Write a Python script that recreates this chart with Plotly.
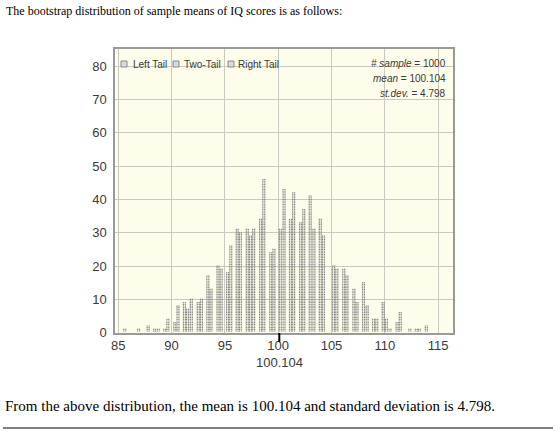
import plotly.graph_objects as go

# ---------------- data ----------------
header_text = "The bootstrap distribution of sample means of IQ scores is as follows:"
footer_text = "From the above distribution, the mean is 100.104 and standard deviation is 4.798."

bin_centers = [85.6, 86.9, 87.8, 88.4, 88.75, 89.35, 89.65, 90.3, 90.6, 91.2,
               91.5, 91.85, 92.5, 92.8, 93.4, 93.7, 94.35, 94.65, 95.25, 95.55,
               96.15, 96.45, 97.1, 97.4, 97.7, 98.35, 98.65, 99.3, 99.6, 100.2,
               100.55, 101.15, 101.45, 102.1, 102.4, 103.0, 103.35, 103.95, 104.25, 105.2,
               105.5, 106.15, 106.45, 107.1, 107.4, 108.0, 108.35, 108.95, 109.25, 109.85,
               110.15, 110.5, 111.15, 111.45, 112.35, 112.95, 113.25, 113.9]
counts = [1, 1, 2, 1, 1, 1, 4, 3, 8, 9,
          7, 10, 9, 10, 17, 13, 20, 19, 18, 26,
          31, 30, 31, 29, 31, 34, 46, 24, 25, 31,
          43, 34, 42, 33, 37, 41, 31, 34, 29, 20,
          19, 19, 17, 13, 9, 15, 8, 4, 4, 9,
          4, 1, 3, 6, 1, 1, 1, 2]
assert len(bin_centers) == len(counts)

x_ticks = [85, 90, 95, 100, 105, 110, 115]
y_ticks = [0, 10, 20, 30, 40, 50, 60, 70, 80]
tail_options = ["Left Tail", "Two-Tail", "Right Tail"]
n_samples = 1000
mean_value = 100.104
sd_value = 4.798

# ---------------- build dot stacks from the counts ----------------
dot_x, dot_y = [], []
for c, n in zip(bin_centers, counts):
    for k in range(1, 2 * n + 1):
        for off in (-0.09, 0.09):
            dot_x.append(c + off)
            dot_y.append(k * 0.5)

# ---------------- layout geometry (pixels) ----------------
W, H = 560, 436
L, R, T, B = 115, 453, 49, 333
PW, PH = R - L, B - T


def px(x):
    return (x - L) / PW


def py(y):
    return (B - y) / PH


BG = "#FEFCEA"
GRID = "#CACAC2"
TXT = "#3a3a3a"

fig = go.Figure()
fig.add_trace(go.Scatter(
    x=dot_x, y=dot_y, mode="markers",
    marker=dict(symbol="square", size=1.2, color="#858585", line=dict(width=0)),
    hoverinfo="skip", showlegend=False,
))

shapes = []
annotations = []

# legend-like checkboxes row
cb_x = [121, 173, 228]
txt_x = [131, 182, 236]
bg_spans = [(117, 169), (173, 222), (227, 281)]
for (b0, b1) in bg_spans:
    shapes.append(dict(type="rect", xref="paper", yref="paper", layer="between",
                       x0=px(b0), x1=px(b1), y0=py(72), y1=py(56),
                       fillcolor=BG, line=dict(width=0)))
for cx, tx, label in zip(cb_x, txt_x, tail_options):
    shapes.append(dict(type="rect", xref="paper", yref="paper",
                       x0=px(cx), x1=px(cx + 6), y0=py(67), y1=py(61),
                       fillcolor="#DADADA", line=dict(color="#8a8a8a", width=1)))
    annotations.append(dict(text=label, xref="paper", yref="paper",
                            x=px(tx), y=py(64), xanchor="left", yanchor="middle",
                            showarrow=False, font=dict(family="Liberation Sans", size=10, color=TXT)))

# stats box
shapes.append(dict(type="rect", xref="paper", yref="paper", layer="between",
                   x0=px(370), x1=px(452), y0=py(99), y1=py(50),
                   fillcolor=BG, line=dict(width=0)))
stats_lines = [f"<i># sample</i> = {n_samples}",
               f"<i>mean</i> = {mean_value}",
               f"<i>st.dev.</i> = {sd_value}"]
for i, s in enumerate(stats_lines):
    annotations.append(dict(text=s, xref="paper", yref="paper",
                            x=px(448), y=py(63 + i * 15), xanchor="right", yanchor="middle",
                            showarrow=False, font=dict(family="Liberation Sans", size=10, color=TXT)))

# mean marker below the axis
shapes.append(dict(type="line", xref="x", yref="paper",
                   x0=mean_value, x1=mean_value, y0=py(333), y1=py(342),
                   line=dict(color="black", width=2)))
annotations.append(dict(text=f"{mean_value}", xref="x", yref="paper",
                        x=mean_value, y=py(362), xanchor="center", yanchor="middle",
                        showarrow=False, font=dict(family="Liberation Sans", size=13, color=TXT)))

# header / footer text
annotations.append(dict(text=header_text, xref="paper", yref="paper",
                        x=px(4), y=py(11), xanchor="left", yanchor="middle",
                        showarrow=False, font=dict(family="Liberation Serif", size=12, color="black")))
annotations.append(dict(text=footer_text, xref="paper", yref="paper",
                        x=px(3), y=py(406), xanchor="left", yanchor="middle",
                        showarrow=False, font=dict(family="Liberation Serif", size=15, color="black")))
shapes.append(dict(type="line", xref="paper", yref="paper",
                   x0=px(3), x1=px(553), y0=py(428), y1=py(428),
                   line=dict(color="black", width=1)))

fig.update_layout(
    width=W, height=H,
    margin=dict(l=L, r=W - R, t=T, b=H - B, pad=0),
    paper_bgcolor="white", plot_bgcolor=BG,
    shapes=shapes, annotations=annotations,
    showlegend=False,
    xaxis=dict(range=[84.69, 116.4], tickvals=x_ticks, ticktext=[str(v) for v in x_ticks],
               showgrid=True, gridcolor=GRID, gridwidth=1, zeroline=False,
               showline=True, mirror=True, linecolor="#9a9a9a", linewidth=1.5,
               ticks="", tickfont=dict(family="Liberation Sans", size=13, color=TXT)),
    yaxis=dict(range=[-0.1, 85.2], tickvals=y_ticks, ticktext=[str(v) for v in y_ticks],
               showgrid=True, gridcolor=GRID, gridwidth=1, zeroline=False,
               showline=True, mirror=True, linecolor="#9a9a9a", linewidth=1.5,
               ticks="", ticklabelstandoff=4,
               tickfont=dict(family="Liberation Sans", size=13, color=TXT)),
)

fig.write_html("out.html")
